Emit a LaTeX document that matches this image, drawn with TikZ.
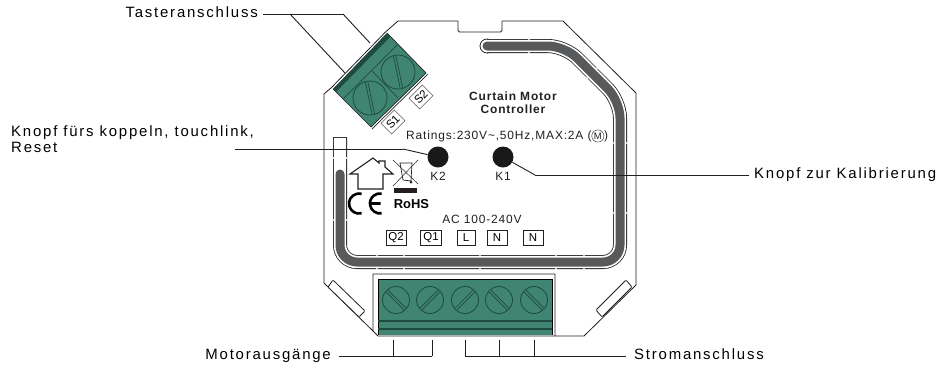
\documentclass[tikz,border=0pt]{standalone}
\usepackage{fontspec}
\setmainfont{Liberation Sans}
\newfontfamily\calloutfont[LetterSpace=12]{Liberation Sans}
\newfontfamily\printfont[LetterSpace=7]{Liberation Sans}
\definecolor{termgreen}{HTML}{3F8572}
\definecolor{termdark}{HTML}{1F4A40}
\definecolor{trackgray}{HTML}{58595B}
\definecolor{inkgray}{HTML}{231F20}
\usetikzlibrary{calc}
\tikzset{
	callout/.style={font=\calloutfont\fontsize{15}{16.5}\selectfont, inner sep=0pt, text height=10.5bp, text depth=3bp, align=left},
	printed/.style={font=\printfont\fontsize{12}{13}\selectfont, inner sep=0pt, text=inkgray},
	pinbox/.style={draw=inkgray, thin, font=\fontsize{11.5}{12}\selectfont, inner sep=0pt, minimum height=15bp},
	body/.style={draw=inkgray, line width=0.8bp},
	screwslot/.style={draw=termdark, line width=3.2bp},
	screwgap/.style={draw=termgreen, line width=1.6bp}
}
\begin{document}
\begin{tikzpicture}[x=1bp, y=-1bp]
	\useasboundingbox (0,0) rectangle (941,368);
	% housing
	\draw [body] (385.5,32) -- (398,21) -- (458,21);
	\draw [body] (502,21) -- (563,21) -- (636,93) -- (636,285) -- (584,336) -- (555,336) -- (555,274) -- (373,274) -- (373,331) -- (324,283) -- (324,94) -- (331.5,87.5) -- (385.5,32);
	\draw [body] (373,331) -- (378,336) -- (555,336);
	\draw [body, rounded corners=1.5bp] (458,21) -- (458,32) -- (502,32) -- (502,21);
	% clips in the lower corners
	\draw [body, fill=white, rounded corners=1bp] (333,280) -- (365,311) -- (359,317) -- (328,287) -- cycle;
	\draw [body, fill=white, rounded corners=1bp] (626,280) -- (632,287) -- (602,317) -- (596,310) -- cycle;
	% gray track
	\draw [draw=inkgray, line width=0.8bp, fill=white] (487,46) circle (7);
	\draw [draw=inkgray, line width=14bp, rounded corners=17bp] (340,137) -- (340,262) -- (620,262) -- (620,101) -- (565,46) -- (487,46);
	\draw [draw=white, line width=12.4bp, rounded corners=17bp] (340,137.8) -- (340,262) -- (620,262) -- (620,101) -- (565,46) -- (486,46);
	\draw [draw=trackgray, line width=9bp, line cap=round, rounded corners=17bp] (340,174) -- (340,262) -- (620,262) -- (620,101) -- (565,46) -- (487,46);
	\foreach \tx/\ty in {333/158, 347/158, 333/220, 347/220, 377/255, 377/269, 404/255, 404/269, 480/255, 480/269, 556/255, 556/269, 584/255, 584/269, 613/143, 627/143, 613/213, 627/213, 529/39, 529/53, 597/68, 587/78}
		\fill [white] (\tx,\ty) circle (1.1);
	% upper terminal
	\fill [termgreen] (387,33) -- (426,73) -- (371,127) -- (333,89) -- cycle;
	\draw [draw=inkgray, line width=0.7bp] (387,33) -- (426,73) -- (371,127) -- (333,89);
	\fill [termdark] (333,89) -- (387,33) -- (390,37) -- (336,92) -- cycle;
	\draw [draw=termdark, line width=0.7bp] (343,99) -- (397,45);
	\draw [draw=termdark, line width=0.7bp] (372,71) -- (398,98);
	\draw [draw=inkgray, line width=0.7bp] (372,129) -- (428,74);
	\foreach \sx/\sy in {398/72, 370/98} {
		\draw [draw=termdark, line width=0.8bp] (\sx,\sy) circle (17);
		\draw [screwslot] ($(\sx,\sy)+(78:16.5)$) -- ($(\sx,\sy)+(258:16.5)$);
		\draw [screwgap] ($(\sx,\sy)+(78:16.5)$) -- ($(\sx,\sy)+(258:16.5)$);
	}
	% lower terminal
	\fill [termgreen] (378,279) rectangle (552,335);
	\draw [draw=black, line width=0.9bp] (378,335) -- (378,279) -- (552,279) -- (552,335);
	\draw [draw=termdark, line width=1.2bp] (378,321) -- (552,321);
	\draw [draw=termdark, line width=1.8bp] (378,329) -- (552,329);
	\foreach \sx/\ang in {396/45, 430/135, 465/135, 499/45, 534/45} {
		\draw [draw=termdark, line width=0.8bp] (\sx,300) circle (13.5);
		\draw [screwslot] ($(\sx,300)+(\ang:13)$) -- ($(\sx,300)+(\ang+180:13)$);
		\draw [screwgap] ($(\sx,300)+(\ang:13)$) -- ($(\sx,300)+(\ang+180:13)$);
	}
	% house, bin and marks
	\draw [draw=inkgray, line width=1.1bp] (350,174) -- (373,158) -- (379,163) -- (379,161) -- (385,161) -- (385,167) -- (393,174) -- (383,174) -- (383,189) -- (358,189) -- (358,174) -- cycle;
	\draw [draw=inkgray, line width=0.5bp] (393,160) -- (418,184);
	\draw [draw=inkgray, line width=0.5bp] (418,160) -- (393,186);
	\draw [draw=inkgray, line width=0.7bp] (400,163) -- (412,163) -- (411,181) -- (403,180) -- cycle;
	\fill [inkgray] (411,182) circle (1.5);
	\fill [inkgray] (394,188) rectangle (417,193);
	\draw [draw=black, line width=2.6bp] (361.6,213.2) arc[start angle=75, end angle=285, radius=10];
	\draw [draw=black, line width=2.6bp] (381.7,213.3) arc[start angle=80, end angle=280, radius=10] (370,203.5) -- (380.5,203.5);
	\node [font=\bfseries\fontsize{13}{14}\selectfont, inner sep=0pt] (rohs) at (411.5,204) {RoHS};
	% printed texts
	\node [font=\printfont\bfseries\fontsize{12}{13}\selectfont, align=center, inner sep=0pt, text=inkgray] (title) at (513,103) {Curtain Motor\\Controller};
	\node [printed, anchor=west] (ratings) at (406,136) {Ratings:230V\char`~,50Hz,MAX:2A (\tikz[baseline=(mm.base)]\node[draw=inkgray, circle, inner sep=0.7pt, font=\fontsize{9.5}{10}\selectfont] (mm) {M};)};
	\node [printed] (acin) at (482,219) {AC 100-240V};
	\node [printed] (K2text) at (438,176) {K2};
	\node [printed] (K1text) at (503,176) {K1};
	\begin{scope}[every node/.style={pinbox}]
		\node [minimum width=20bp] (Q2) at (396,238) {Q2};
		\node [minimum width=21bp] (Q1) at (431,238) {Q1};
		\node [minimum width=18bp] (L) at (466,238) {L};
		\node [minimum width=20bp] (N1) at (497,238) {N};
		\node [minimum width=20bp] (N2) at (533,238) {N};
		\node [rotate=45, minimum width=19bp, minimum height=15bp] (S1) at (393,122) {S1};
		\node [rotate=45, minimum width=19bp, minimum height=15bp] (S2) at (421,97) {S2};
	\end{scope}
	% buttons
	\begin{scope}[every node/.style={circle, fill=black!90, inner sep=0pt, minimum size=21bp}]
		\node (K2) at (438,157) {};
		\node (K1) at (503,157) {};
	\end{scope}
	% callouts
	\node [callout, anchor=east] (taster) at (258,14) {Tasteranschluss};
	\node [callout, anchor=west] (koppeln) at (11,149) {Knopf fürs koppeln, touchlink,\\Reset};
	\node [callout, anchor=west] (kalib) at (754,175) {Knopf zur Kalibrierung};
	\node [callout, anchor=east] (motor) at (331,356) {Motorausgänge};
	\node [callout, anchor=west] (strom) at (634,356) {Stromanschluss};
	\coordinate (tasterBend) at (343,14);
	\coordinate (tasterFork) at (290,14);
	\coordinate (tasterS2) at (370,43);
	\coordinate (tasterS1) at (345,73);
	\coordinate (koppelnL) at (235,149);
	\coordinate (koppelnBend) at (403,149);
	\coordinate (kalibBend) at (535,175);
	\coordinate (motorQ2) at (393,356);
	\coordinate (motorQ1) at (432,356);
	\coordinate (motorQ2up) at (393,340);
	\coordinate (motorQ1up) at (432,340);
	\coordinate (stromL) at (465,356);
	\coordinate (stromN) at (499,356);
	\coordinate (stromNb) at (534,356);
	\coordinate (stromLup) at (465,340);
	\coordinate (stromNup) at (499,340);
	\coordinate (stromNbup) at (534,340);
	\begin{scope}[every edge/.style={draw=inkgray, line width=0.9bp}]
		\path [-] ([xshift=5bp]taster.east) edge (tasterBend);
		\path [-] (tasterBend) edge (tasterS2);
		\path [-] (tasterFork) edge (tasterS1);
		\path [-] (koppelnL) edge (koppelnBend);
		\path [-] (koppelnBend) edge (K2);
		\path [-] (K1) edge (kalibBend);
		\path [-] (kalibBend) edge ([xshift=-5bp]kalib.west);
		\path [-] ([xshift=8bp]motor.east) edge (motorQ1);
		\path [-] (motorQ2) edge (motorQ2up);
		\path [-] (motorQ1) edge (motorQ1up);
		\path [-] (stromL) edge ([xshift=-8bp]strom.west);
		\path [-] (stromL) edge (stromLup);
		\path [-] (stromN) edge (stromNup);
		\path [-] (stromNb) edge (stromNbup);
	\end{scope}
\end{tikzpicture}
\end{document}
